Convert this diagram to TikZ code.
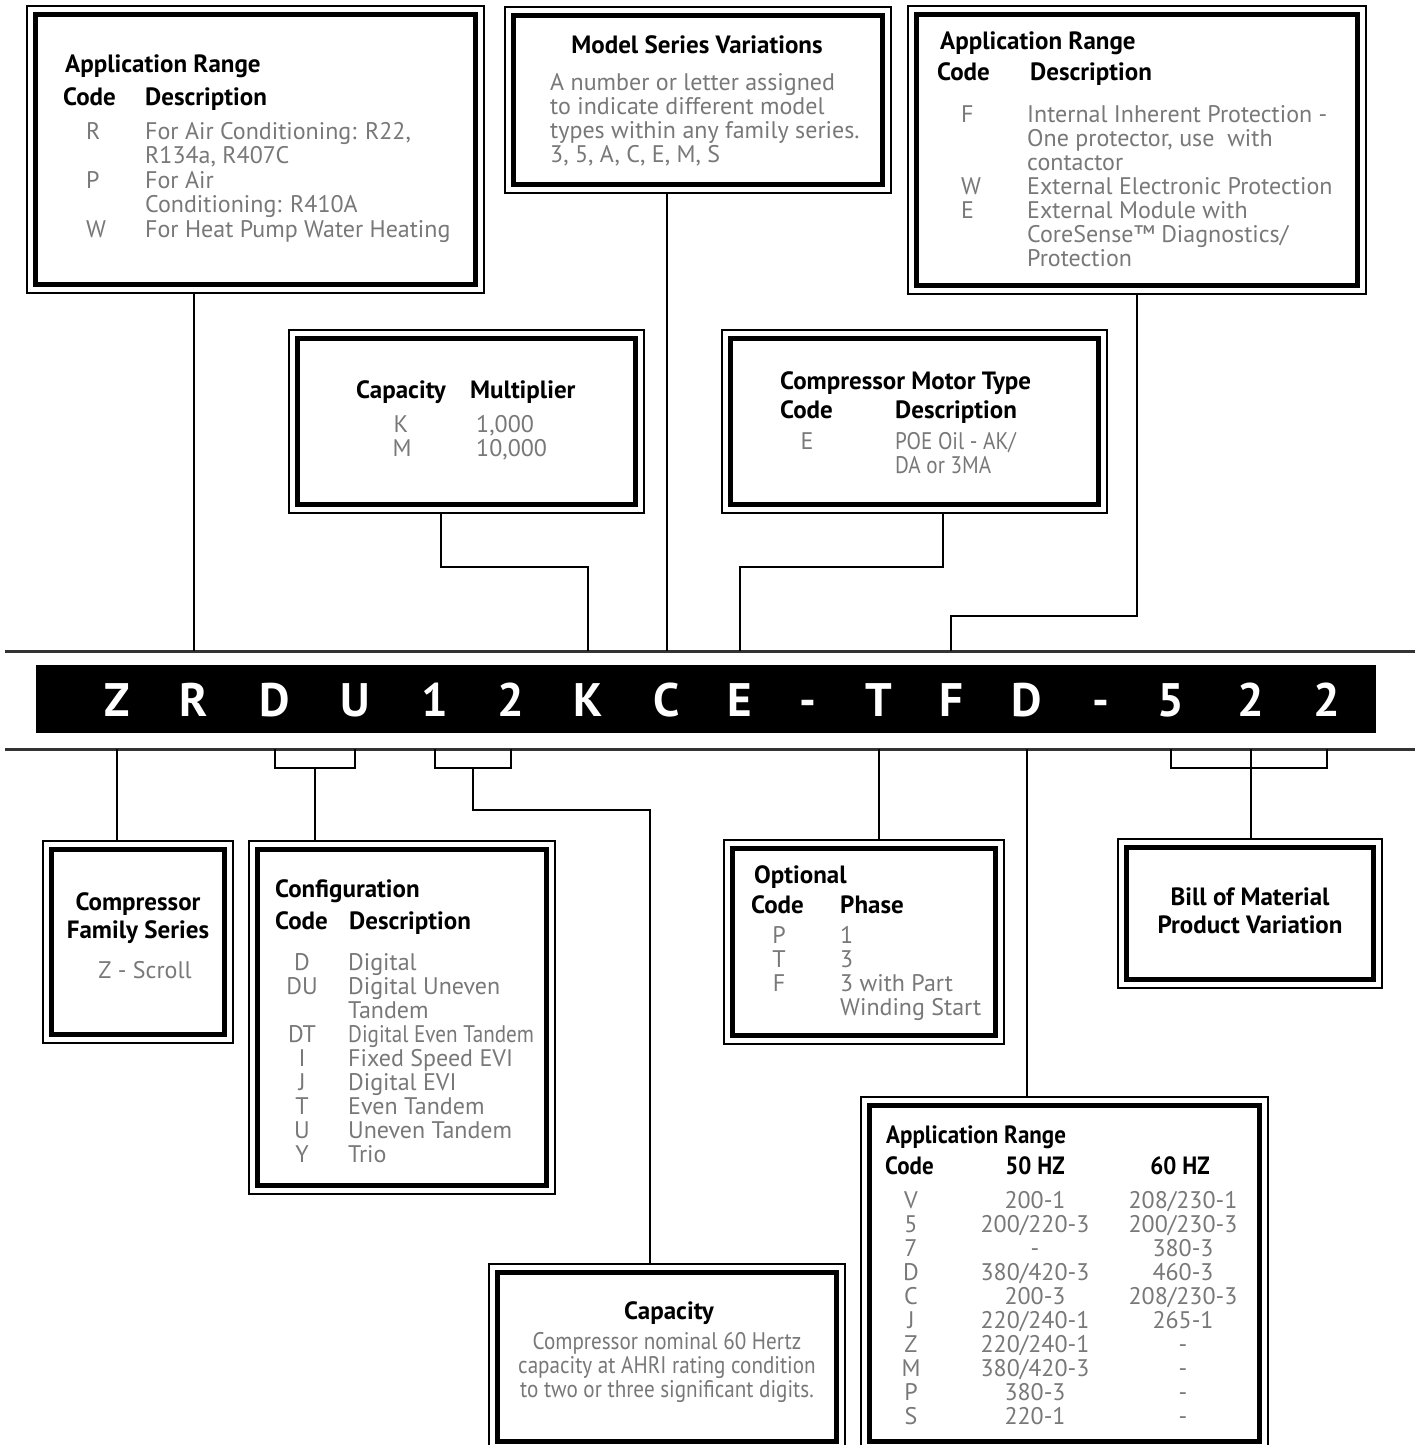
\documentclass[tikz,border=0pt]{standalone}
\usepackage{fontspec}
\setmainfont{PT Sans}
\newfontfamily\cnd[FakeStretch=0.88]{PT Sans}
\newfontfamily\cndb[FakeStretch=0.92]{PT Sans}
\usetikzlibrary{calc,fit}
\definecolor{txtgray}{RGB}{120,120,120}
\newcommand\twobox[5]{%
  \path (#2,#3) coordinate (#1nw) (#4,#5) coordinate (#1se);
  \node[obox, fit=(#1nw)(#1se)] (#1) {};
  \draw[ibox] ([shift={(10,10)}]#1.north west) rectangle ([shift={(-10,-10)}]#1.south east);}
\begin{document}
\begin{tikzpicture}[x=1pt,y=-1pt,
  hd/.style={font=\fontsize{25}{25}\selectfont\bfseries, inner sep=0, anchor=base west},
  tx/.style={font=\fontsize{24}{24}\selectfont, text=txtgray, inner sep=0, anchor=base west},
  cn/.style={font=\fontsize{24}{24}\selectfont\cnd},
  cnh/.style={font=\fontsize{25}{25}\selectfont\cndb\bfseries},
  ctr/.style={anchor=base},
  obox/.style={draw=black, line width=2.2pt, inner sep=0pt},
  ibox/.style={line width=5pt},
  conn/.style={line width=2pt},
  rulel/.style={line width=3pt, draw=black!80},
  barch/.style={font=\fontsize{47}{47}\selectfont\bfseries, text=white, inner sep=0, anchor=base}]
\clip (0,0) rectangle (1418,1445);
\fill[white] (0,0) rectangle (1418,1445);

% ---------- boxes ----------
\twobox{appA}{27}{6}{484}{293}
\twobox{msv}{505}{7}{891}{193}
\twobox{appC}{908}{6}{1366}{294}
\twobox{capm}{289}{330}{644}{513}
\twobox{mot}{722}{330}{1107}{513}
\twobox{fam}{43}{841}{233}{1043}
\twobox{cfg}{249}{841}{555}{1194}
\twobox{opt}{724}{840}{1004}{1044}
\twobox{bom}{1118}{839}{1382}{988}
\twobox{cap}{489}{1264}{845}{1450}
\twobox{appK}{861}{1097}{1268}{1450}

% ---------- model bar ----------
\coordinate (ruleT) at (0,651);
\coordinate (ruleB) at (0,749);
\draw[rulel] (5,651) -- (1415,651);
\draw[rulel] (5,749) -- (1415,749);
\node[fill=black, minimum width=1340pt, minimum height=68pt, inner sep=0] (bar) at (706,699) {};
\foreach \ch/\x [count=\i] in {Z/117, R/194, D/275, U/355, 1/435, 2/511, K/588, C/667, E/740, -/808, T/879, F/951, D/1027, -/1101, 5/1171, 2/1251, 2/1327}
  \node[barch] (c\i) at (\x,716) {\ch};

% ---------- connectors above ----------
\draw[conn] (appA.south -| c2) -- (c2 |- ruleT);
\draw[conn] (msv.south -| c8) -- (c8 |- ruleT);
\draw[conn] ([xshift=-25.5pt]capm.south) -- ++(0,53) -| (c7 |- ruleT);
\draw[conn] ([xshift=28.5pt]mot.south) -- ++(0,53) -| (c9 |- ruleT);
\draw[conn] (appC.south) -- ++(0,321) -| (c12 |- ruleT);

% ---------- connectors below ----------
\draw[conn] (c1 |- ruleB) -- (c1 |- fam.north);
\path (c3 |- ruleB) ++(0,19) coordinate (du1);
\path (c4 |- ruleB) ++(0,19) coordinate (du2);
\coordinate (duM) at ($(du1)!0.5!(du2)$);
\draw[conn] (c3 |- ruleB) -- (du1) -- (du2) -- (c4 |- ruleB);
\draw[conn] (duM) -- (duM |- cfg.north);
\path (c5 |- ruleB) ++(0,19) coordinate (nn1);
\path (c6 |- ruleB) ++(0,19) coordinate (nn2);
\coordinate (nnM) at ($(nn1)!0.5!(nn2)$);
\draw[conn] (c5 |- ruleB) -- (nn1) -- (nn2) -- (c6 |- ruleB);
\draw[conn] (nnM) -- ++(0,42) -| ([xshift=-17pt]cap.north);
\draw[conn] (c11 |- ruleB) -- (c11 |- opt.north);
\draw[conn] (c13 |- ruleB) -- (c13 |- appK.north);
\path (c15 |- ruleB) ++(0,19) coordinate (bb1);
\path (c17 |- ruleB) ++(0,19) coordinate (bb2);
\draw[conn] (c15 |- ruleB) -- (bb1) -- (bb2) -- (c17 |- ruleB);
\draw[conn] (c16 |- ruleB) -- (c16 |- bom.north);

% ---------- box A text ----------
\node[hd] (aT) at (65,72) {Application Range};
\node[hd] (aC) at (63,105) {Code};
\node[hd] (aD) at (145,105) {Description};
\foreach \y/\s [count=\i] in {139/R, 188/P, 237/W}
  \node[tx] (aK\i) at (86,\y) {\s};
\foreach \y/\s [count=\i] in {139/{For Air Conditioning: R22,}, 163/{R134a, R407C}, 188/{For Air}, 212/{Conditioning: R410A}, 237/{For Heat Pump Water Heating}}
  \node[tx] (aL\i) at (145,\y) {\s};

% ---------- box B text ----------
\node[hd, ctr] (bT) at (697,53) {Model Series Variations};
\foreach \y/\s [count=\i] in {90/{A number or letter assigned}, 114/{to indicate different model}, 138/{types within any family series.}, 162/{3, 5, A, C, E, M, S}}
  \node[tx] (bL\i) at (550,\y) {\s};

% ---------- box C text ----------
\node[hd] (cT) at (940,49) {Application Range};
\node[hd] (cC) at (937,81) {Code};
\node[hd] (cD) at (1030,81) {Description};
\foreach \y/\s [count=\i] in {122/F, 194/W, 218/E}
  \node[tx] (cK\i) at (961,\y) {\s};
\foreach \y/\s [count=\i] in {122/{Internal Inherent Protection -}, 146/{One protector, use\ \ with}, 170/{contactor}, 194/{External Electronic Protection}, 218/{External Module with}, 242/{CoreSense™ Diagnostics/}, 266/{Protection}}
  \node[tx] (cL\i) at (1027,\y) {\s};

% ---------- capacity multiplier ----------
\node[hd] (dT1) at (356,398) {Capacity};
\node[hd] (dT2) at (470,398) {Multiplier};
\node[tx, ctr] (dK1) at (401,432) {K};
\node[tx, ctr] (dK2) at (402,456) {M};
\node[tx] (dL1) at (476,432) {1,000};
\node[tx] (dL2) at (476,456) {10,000};

% ---------- motor type ----------
\node[hd] (eT) at (780,389) {Compressor Motor Type};
\node[hd] (eC) at (780,418) {Code};
\node[hd] (eD) at (895,418) {Description};
\node[tx, ctr] (eK1) at (807,449) {E};
\node[tx, cn] (eL1) at (895,449) {POE Oil - AK/};
\node[tx, cn] (eL2) at (895,473) {DA or 3MA};

% ---------- family ----------
\node[hd, ctr] (fT1) at (138,910) {Compressor};
\node[hd, ctr] (fT2) at (138,938) {Family Series};
\node[tx, ctr] (fL1) at (145,978) {Z - Scroll};

% ---------- configuration ----------
\node[hd] (gT) at (275,897) {Configuration};
\node[hd] (gC) at (275,929) {Code};
\node[hd] (gD) at (349,929) {Description};
\foreach \y/\s [count=\i] in {970/D, 994/DU, 1042/DT, 1066/I, 1090/J, 1114/T, 1138/U, 1162/Y}
  \node[tx, ctr] (gK\i) at (302,\y) {\s};
\foreach \y/\s [count=\i] in {970/{Digital}, 994/{Digital Uneven}, 1018/{Tandem}, 1066/{Fixed Speed EVI}, 1090/{Digital EVI}, 1114/{Even Tandem}, 1138/{Uneven Tandem}, 1162/{Trio}}
  \node[tx] (gL\i) at (348,\y) {\s};
\node[tx, cn] (gLx) at (348,1042) {Digital Even Tandem};

% ---------- optional ----------
\node[hd] (hT) at (754,883) {Optional};
\node[hd] (hC) at (751,913) {Code};
\node[hd] (hD) at (840,913) {Phase};
\foreach \y/\s [count=\i] in {943/P, 967/T, 991/F}
  \node[tx, ctr] (hK\i) at (779,\y) {\s};
\foreach \y/\s [count=\i] in {943/{1}, 967/{3}, 991/{3 with Part}, 1015/{Winding Start}}
  \node[tx] (hL\i) at (840,\y) {\s};

% ---------- bill of material ----------
\node[hd, ctr] (iT1) at (1250,905) {Bill of Material};
\node[hd, ctr] (iT2) at (1250,933) {Product Variation};

% ---------- capacity ----------
\node[hd, ctr] (jT) at (669,1319) {Capacity};
\foreach \y/\s [count=\i] in {1349/{Compressor nominal 60 Hertz}, 1373/{capacity at AHRI rating condition}, 1397/{to two or three significant digits.}}
  \node[tx, cn, ctr] (jL\i) at (667,\y) {\s};

% ---------- application range (bottom) ----------
\node[hd, cnh] (kT) at (886,1143) {Application Range};
\node[hd, cnh] (kC) at (885,1174) {Code};
\node[hd, cnh, ctr] (kF) at (1035,1174) {50 HZ};
\node[hd, cnh, ctr] (kS) at (1180,1174) {60 HZ};
\foreach \s/\a/\b [count=\i] in {V/200-1/208\slash 230-1, 5/200\slash 220-3/200\slash 230-3, 7/-/380-3, D/380\slash 420-3/460-3, C/200-3/208\slash 230-3, J/220\slash 240-1/265-1, Z/220\slash 240-1/-, M/380\slash 420-3/-, P/380-3/-, S/220-1/-}
  {
  \node[tx, ctr] (kK\i) at (911,1184+24*\i) {\s};
  \node[tx, ctr] (kA\i) at (1035,1184+24*\i) {\a};
  \node[tx, ctr] (kB\i) at (1183,1184+24*\i) {\b};
  }
\end{tikzpicture}
\end{document}
